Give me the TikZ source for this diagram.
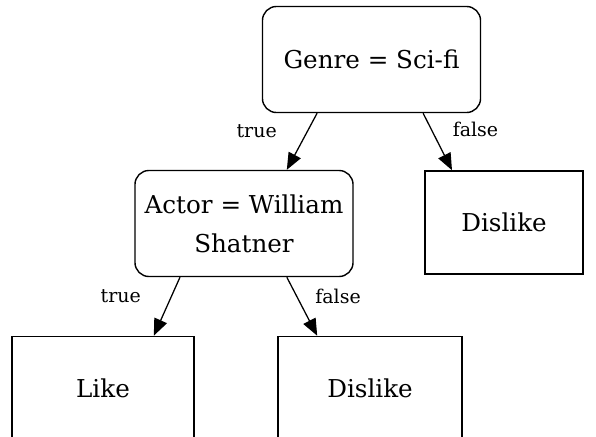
\documentclass[tikz,border=0pt]{standalone}
\usepackage{fontspec}
\setmainfont{DejaVu Serif}
\usetikzlibrary{arrows.meta, positioning}

\begin{document}
\begin{tikzpicture}[
        x=0.025cm, y=-0.025cm,
        test/.style={rectangle, draw, line width=1pt, rounded corners=0.35cm, minimum width=5.45cm, minimum height=2.65cm, align=center, font=\fontsize{17.5}{27.6}\selectfont},
        leaf/.style={rectangle, draw, line width=1pt, minimum height=2.58cm, align=center, font=\fontsize{17.5}{27.6}\selectfont},
        arrow/.style={-{Triangle[length=0.42cm, width=0.34cm]}, line width=0.9pt},
        lbl/.style={font=\fontsize{13.5}{15}\selectfont}
    ]
%
    \useasboundingbox (0,0) rectangle (596,436);
%
    % Nodes
    \node[test] (genre) at (371.5,59.5) {Genre = Sci-fi};
    \node[test] (actor) at (244,223.5) {Actor = William\\Shatner};
    \node[leaf, minimum width=3.95cm] (dislike1) at (504,222.5) {Dislike};
    \node[leaf, minimum width=4.55cm] (like) at (103,388) {Like};
    \node[leaf, minimum width=4.6cm] (dislike2) at (370,388) {Dislike};
%
    % Arrows
    \draw[arrow] ([xshift=-1.36cm]genre.south) -- ([xshift=1.07cm]actor.north)
        node[lbl, pos=0.31, left=0.64cm] {true};
    \draw[arrow] ([xshift=1.29cm]genre.south) -- ([xshift=-1.3cm]dislike1.north)
        node[lbl, pos=0.29, right=0.4cm] {false};
    \draw[arrow] ([xshift=-1.6cm]actor.south) -- ([xshift=1.27cm]like.north)
        node[lbl, pos=0.33, left=0.63cm] {true};
    \draw[arrow] ([xshift=1.07cm]actor.south) -- ([xshift=-1.32cm]dislike2.north)
        node[lbl, pos=0.33, right=0.33cm] {false};
%
\end{tikzpicture}
\end{document}
